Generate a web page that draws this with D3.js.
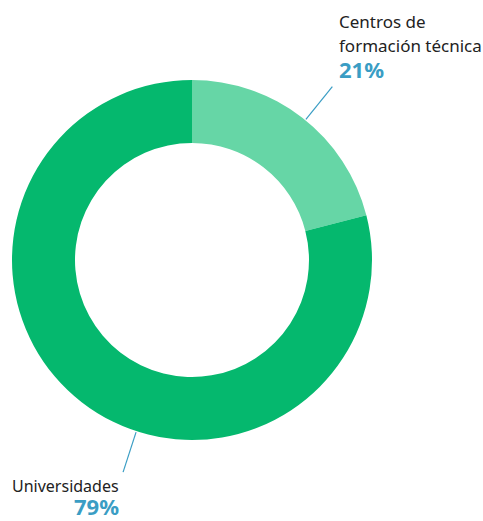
<!DOCTYPE html>
<html><head><meta charset="utf-8">
<script src="https://cdn.jsdelivr.net/npm/d3@7"></script>
<style>body{margin:0;background:#fff}svg{display:block}</style>
</head><body>
<svg id="c" width="483" height="521"></svg>
<script>
const categories = ["Centros de formación técnica", "Universidades"];
const values = [21, 79];
const colors = ["#66d6a6", "#05b86e"];
const labelLines = [["Centros de", "formación técnica"], ["Universidades"]];
const pctLabels = ["21%", "79%"];

const svg = d3.select("#c");
const cx = 192, cy = 260, rOuter = 180, rInner = 117;
const g = svg.append("g").attr("transform", `translate(${cx},${cy})`);
const pie = d3.pie().sort(null).value(d => d)(values);
const arc = d3.arc().innerRadius(rInner).outerRadius(rOuter);
g.selectAll("path").data(pie).enter().append("path")
  .attr("d", arc).attr("fill", (d,i) => colors[i]);

// leader lines (angle clockwise from top)
const leaderAngles = [39 * Math.PI/180, 198 * Math.PI/180];
const pt = (a, r) => [r*Math.sin(a), -r*Math.cos(a)];
leaderAngles.forEach(a => {
  const p1 = pt(a, rOuter+1), p2 = pt(a, 223);
  g.append("line").attr("x1", p1[0]).attr("y1", p1[1]).attr("x2", p2[0]).attr("y2", p2[1])
   .attr("stroke", "#3a9dc4").attr("stroke-width", 1.2);
});

const font = "'Noto Sans','Open Sans',sans-serif";
// top-right label
const t1 = svg.append("g").attr("font-family", font);
labelLines[0].forEach((s, i) => t1.append("text").attr("x", 339).attr("y", 28 + i*24)
  .attr("font-size", 17).attr("fill", "#222").text(s));
t1.append("text").attr("x", 339).attr("y", 78).attr("font-size", 22).attr("font-weight", 700)
  .attr("fill", "#3a9dc4").text(pctLabels[0]);
// bottom-left label
const t2 = svg.append("g").attr("font-family", font);
t2.append("text").attr("x", 12).attr("y", 492).attr("font-size", 16).attr("fill", "#222").text(labelLines[1][0]);
t2.append("text").attr("x", 119).attr("y", 515).attr("text-anchor", "end").attr("font-size", 22)
  .attr("font-weight", 700).attr("fill", "#3a9dc4").text(pctLabels[1]);
</script>
</body></html>
